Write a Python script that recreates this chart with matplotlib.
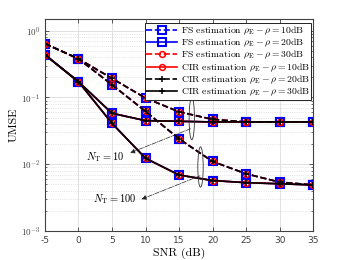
import matplotlib
matplotlib.use('Agg')
import matplotlib.pyplot as plt
from matplotlib.patches import Ellipse
from matplotlib.ticker import FixedLocator, LogLocator, NullFormatter
import numpy as np

plt.rcParams['font.family'] = 'serif'
plt.rcParams['font.serif'] = ['cmr10']
plt.rcParams['mathtext.fontset'] = 'cm'
plt.rcParams['axes.formatter.use_mathtext'] = True

### data
snr = [-5, 0, 5, 10, 15, 20, 25, 30, 35]
# N_T = 10
nt10_dash = [0.64, 0.38, 0.193, 0.098, 0.061, 0.047, 0.043, 0.043, 0.043]
nt10_solid = [0.436, 0.172, 0.058, 0.045, 0.044, 0.043, 0.043, 0.043, 0.043]
# N_T = 100
nt100_dash = [0.64, 0.38, 0.155, 0.062, 0.024, 0.011, 0.0072, 0.0054, 0.0049]
nt100_solid = [0.436, 0.172, 0.041, 0.0123, 0.0069, 0.0057, 0.0053, 0.0051, 0.0049]

labels = [r'FS estimation $\rho_{\rm E}-\rho=10$dB',
          r'FS estimation $\rho_{\rm E}-\rho=20$dB',
          r'FS estimation $\rho_{\rm E}-\rho=30$dB',
          r'CIR estimation $\rho_{\rm E}-\rho=10$dB',
          r'CIR estimation $\rho_{\rm E}-\rho=20$dB',
          r'CIR estimation $\rho_{\rm E}-\rho=30$dB']
xticks = [-5, 0, 5, 10, 15, 20, 25, 30, 35]
yticks = [1e-3, 1e-2, 1e-1, 1e0]
ytick_labels = [r'$\mathsf{10^{-3}}$', r'$\mathsf{10^{-2}}$', r'$\mathsf{10^{-1}}$', r'$\mathsf{10^{0}}$']

# (style, color, marker, size, edge width)
styles = [('--', 'b', 's', 6.0, 1.5),
          ('-', 'b', 's', 6.0, 1.5),
          ('--', 'r', 'o', 4.2, 1.1),
          ('-', 'r', 'o', 4.2, 1.1),
          ('--', 'k', '+', 5.0, 1.1),
          ('-', 'k', '+', 5.0, 1.1)]

fig = plt.figure(figsize=(3.46, 2.6), dpi=100)
ax = fig.add_axes([0.130, 0.1115, 0.775, 0.8155])

for i, (ls, c, m, ms, mew) in enumerate(styles):
    if ls == '--':
        curves = [nt10_dash, nt100_dash]
    else:
        curves = [nt10_solid, nt100_solid]
    for j, curve in enumerate(curves):
        ax.plot(snr, curve, linestyle=ls, color=c, marker=m, markersize=ms,
                markeredgewidth=mew, markerfacecolor='none', markeredgecolor=c,
                linewidth=1.2, label=labels[i] if j == 0 else None)

ax.set_yscale('log')
ax.set_xlim(-5, 35)
ax.set_ylim(1e-3, 1.5)
ax.xaxis.set_major_locator(FixedLocator(xticks))
ax.set_xticklabels([str(v) for v in xticks], family='DejaVu Sans')
ax.yaxis.set_major_locator(FixedLocator(yticks))
ax.set_yticklabels(ytick_labels)
ax.yaxis.set_minor_locator(LogLocator(base=10, subs=np.arange(2, 10), numticks=20))
ax.yaxis.set_minor_formatter(NullFormatter())

ax.tick_params(axis='both', which='both', direction='in', top=True, right=True,
               labelsize=6.5, labelcolor='#404040', color='#404040')
ax.tick_params(which='major', length=3, width=0.6)
ax.tick_params(which='minor', length=1.5, width=0.5)
for s in ax.spines.values():
    s.set_color('#404040')
    s.set_linewidth(0.8)

ax.grid(True, which='major', color='#dcdcdc', linewidth=0.6, linestyle='-')
ax.grid(True, which='minor', axis='y', color='#d0d0d0', linewidth=0.5, linestyle=':')
ax.set_axisbelow(True)

ax.set_xlabel('SNR (dB)', fontsize=8.5, labelpad=2)
ax.set_ylabel('UMSE', fontsize=8.5, labelpad=2)

# ellipses grouping the curves, placed in data coords, sized in axes fraction
def data_to_axes(x, y):
    return ax.transAxes.inverted().transform(ax.transData.transform((x, y)))

for cx, cy, h in [(16.9, 0.048, 0.198), (18.2, 0.0091, 0.19)]:
    px, py = data_to_axes(cx, cy)
    ax.add_patch(Ellipse((px, py), 0.02, h, transform=ax.transAxes,
                         fill=False, edgecolor='#333333', linewidth=0.6, zorder=5))

arrow = dict(arrowstyle='-|>', linestyle='-.', linewidth=0.5, color='#222222',
             mutation_scale=7, shrinkA=0, shrinkB=0)
ax.annotate('', xy=(7.7, 0.0148), xytext=(16.7, 0.034), arrowprops=arrow, zorder=6)
ax.annotate('', xy=(9.4, 0.0030), xytext=(18.1, 0.0067), arrowprops=arrow, zorder=6)
ax.text(6.8, 0.0129, r'$N_{\rm T}=10$', fontsize=7.5, ha='right', va='center')
ax.text(8.6, 0.0030, r'$N_{\rm T}=100$', fontsize=7.5, ha='right', va='center')

leg = ax.legend(loc='upper right', bbox_to_anchor=(0.993, 0.981), fontsize=7.0,
                fancybox=False, framealpha=1, edgecolor='#222222',
                borderaxespad=0, handlelength=3.2, handletextpad=0.35,
                labelspacing=0.0, borderpad=0.15)
leg.get_frame().set_linewidth(0.7)

fig.savefig('out.png', dpi=100)
